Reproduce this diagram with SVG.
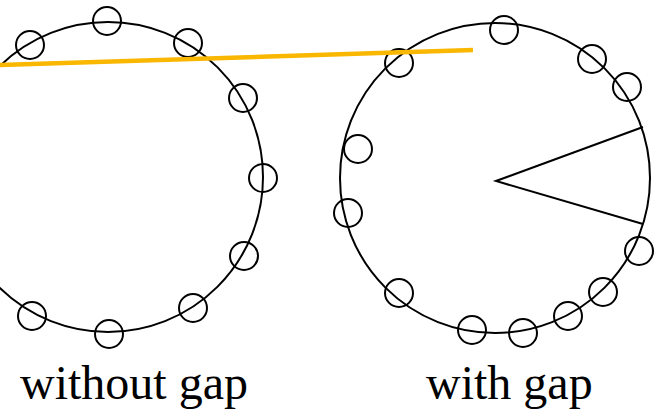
<svg xmlns="http://www.w3.org/2000/svg" width="656" height="414" viewBox="0 0 656 414">
<style>
.ring{fill:none;stroke:#000;stroke-width:2}
.bead{fill:none;stroke:#000;stroke-width:2}
.lbl{font-family:"Liberation Serif","Times New Roman",serif;font-size:48px;fill:#000}
</style>
<rect width="656" height="414" fill="#fff"/>
<g id="ring-without-gap">
<circle class="ring" cx="108" cy="177" r="155"/>
<circle class="bead" cx="30" cy="45" r="14"/>
<circle class="bead" cx="107" cy="21" r="14"/>
<circle class="bead" cx="188" cy="43" r="14"/>
<circle class="bead" cx="243" cy="98" r="14"/>
<circle class="bead" cx="263" cy="178" r="14"/>
<circle class="bead" cx="244" cy="256" r="14"/>
<circle class="bead" cx="193" cy="308" r="14"/>
<circle class="bead" cx="109" cy="334" r="14"/>
<circle class="bead" cx="32" cy="316" r="14"/>
<text class="lbl" x="20" y="399">without gap</text>
</g>
<g id="ring-with-gap">
<circle class="ring" cx="495" cy="178" r="155"/>
<circle class="bead" cx="399" cy="63" r="14"/>
<circle class="bead" cx="504" cy="30" r="14"/>
<circle class="bead" cx="592" cy="59" r="14"/>
<circle class="bead" cx="627" cy="87" r="14"/>
<circle class="bead" cx="358" cy="149" r="14"/>
<circle class="bead" cx="348" cy="213" r="14"/>
<circle class="bead" cx="399" cy="293" r="14"/>
<circle class="bead" cx="472" cy="330" r="14"/>
<circle class="bead" cx="523" cy="333" r="14"/>
<circle class="bead" cx="568" cy="316" r="14"/>
<circle class="bead" cx="603" cy="292" r="14"/>
<circle class="bead" cx="639" cy="251" r="14"/>
<text class="lbl" x="426" y="399">with gap</text>
</g>
<g id="connectors">
<polyline points="643,127 496,181 643,224" fill="none" stroke="#000" stroke-width="2"/>
<line x1="0" y1="65" x2="473" y2="50" stroke="#F9B700" stroke-width="4.5"/>
</g>
</svg>
